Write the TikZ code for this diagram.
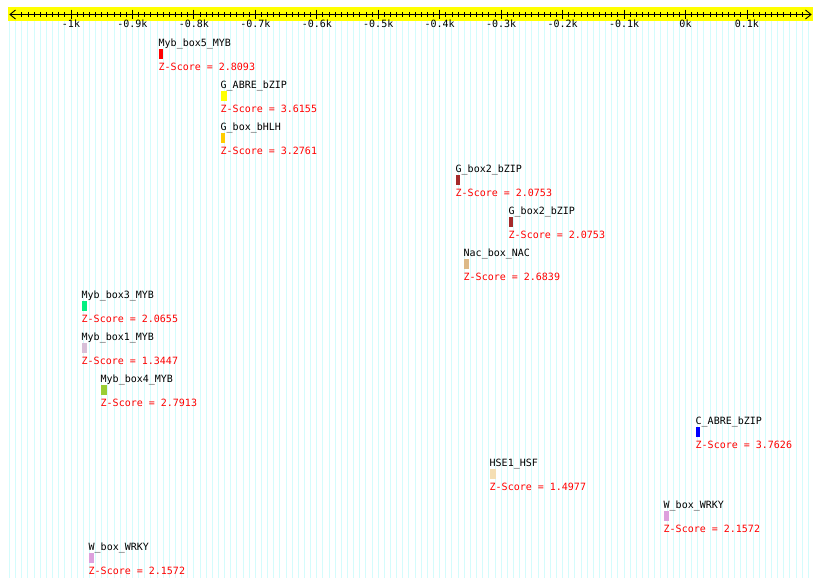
\documentclass[tikz,border=0pt]{standalone}
\usepackage{fontspec}
\setmonofont{DejaVu Sans Mono}
\definecolor{gridc}{HTML}{D4FCFC}
\definecolor{axyel}{HTML}{FFFF00}
\definecolor{cRed}{HTML}{FF0000}
\definecolor{cYel}{HTML}{FFFF00}
\definecolor{cGold}{HTML}{FFCC00}
\definecolor{cBrown}{HTML}{A52A2A}
\definecolor{cBurly}{HTML}{DEB887}
\definecolor{cSpring}{HTML}{00F080}
\definecolor{cThistle}{HTML}{D8BFD8}
\definecolor{cYG}{HTML}{9ACD32}
\definecolor{cBlue}{HTML}{0000FF}
\definecolor{cWheat}{HTML}{F5DEB3}
\definecolor{cPlum}{HTML}{DDA0DD}
\tikzset{
  pixfont/.style={font=\fontsize{10}{12}\selectfont\ttfamily},
  lbl/.style={pixfont, anchor=base west, inner sep=0pt, text=black},
  zs/.style={pixfont, anchor=base west, inner sep=0pt, text=cRed},
  ticklbl/.style={pixfont, anchor=base, inner sep=0pt, text=black},
  motifbox/.style={anchor=north west, inner sep=0pt, minimum height=10pt, draw=none},
  gridline/.style={draw=gridc, line width=1pt},
  axisline/.style={draw=black, line width=0.9pt},
}
\newcommand\motif[6]{%
  \pgfmathsetmacro\yb{46+42*#1}%
  \node[lbl] (n#1) at (#2-0.5,\yb) {#5};
  \node[motifbox, fill=#4, minimum width=#3pt] (b#1) at (#2,\yb+3) {};
  \node[zs] (z#1) at (#2-0.5,\yb+24) {Z-Score = #6};
}
\begin{document}
\begin{tikzpicture}[x=1pt,y=-1pt]
\useasboundingbox (0,0) rectangle (820,587);
\fill[white] (0,0) rectangle (820,587);
% grid
\foreach \k in {-110,...,20} {
  \draw[gridline] ({685.5+6.145*\k},20) -- ++(0,558);
}
% axis band
\fill[axyel] (8,7) rectangle (813,20.5);
\coordinate (axL) at (10,14.5);
\coordinate (axR) at (811,14.5);
\draw[axisline] (axL) -- (axR);
\draw[axisline] (15.5,10) -- (axL) -- (15.5,19);
\draw[axisline] (805.5,10) -- (axR) -- (805.5,19);
\foreach \v in {-1080,-1070,...,190} {
  \draw[axisline] ({685.5+0.6145*\v},12) -- ++(0,5);
}
\foreach \v/\l [count=\i] in {-1000/-1k,-900/-0.9k,-800/-0.8k,-700/-0.7k,-600/-0.6k,-500/-0.5k,-400/-0.4k,-300/-0.3k,-200/-0.2k,-100/-0.1k,0/0k,100/0.1k} {
  \draw[axisline] ({685.5+0.6145*\v},9.5) -- ++(0,9.5);
  \node[ticklbl] (t\i) at ({685.5+0.6145*\v},27.5) {\l};
}
% motifs
\motif{0}{159}{4}{cRed}{Myb\_box5\_MYB}{2.8093}
\motif{1}{221}{6}{cYel}{G\_ABRE\_bZIP}{3.6155}
\motif{2}{221}{4}{cGold}{G\_box\_bHLH}{3.2761}
\motif{3}{456}{4}{cBrown}{G\_box2\_bZIP}{2.0753}
\motif{4}{509}{4}{cBrown}{G\_box2\_bZIP}{2.0753}
\motif{5}{464}{5}{cBurly}{Nac\_box\_NAC}{2.6839}
\motif{6}{82}{5}{cSpring}{Myb\_box3\_MYB}{2.0655}
\motif{7}{82}{5}{cThistle}{Myb\_box1\_MYB}{1.3447}
\motif{8}{101}{6}{cYG}{Myb\_box4\_MYB}{2.7913}
\motif{9}{696}{4}{cBlue}{C\_ABRE\_bZIP}{3.7626}
\motif{10}{490}{6}{cWheat}{HSE1\_HSF}{1.4977}
\motif{11}{664}{5}{cPlum}{W\_box\_WRKY}{2.1572}
\motif{12}{89}{5}{cPlum}{W\_box\_WRKY}{2.1572}
\end{tikzpicture}
\end{document}
